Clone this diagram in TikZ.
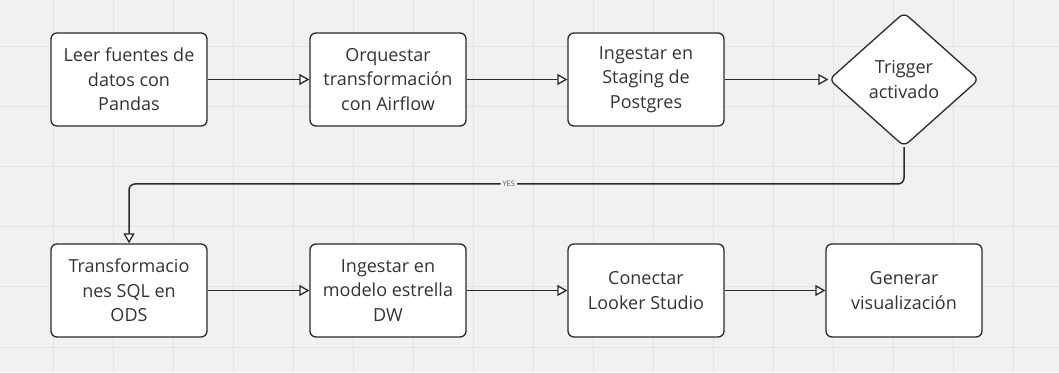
\documentclass[tikz,border=0pt]{standalone}
\usepackage{fontspec}
\setmainfont{Open Sans}
\usetikzlibrary{arrows.meta,shapes.geometric}

\definecolor{canvas}{HTML}{F1F1F1}
\definecolor{gridline}{HTML}{E2E2E2}
\definecolor{inkline}{HTML}{2A2A2A}
\definecolor{inktext}{HTML}{333333}

\tikzset{
  stepbox/.style={draw=inkline, fill=white, line width=1.3pt, rounded corners=6pt,
    minimum width=156pt, minimum height=93pt, align=center,
    font=\fontsize{18}{24.5}\selectfont, text=inktext},
  choice/.style={diamond, draw=inkline, fill=white, line width=1.3pt, rounded corners=6pt,
    minimum width=150pt, minimum height=134pt, inner sep=0pt, align=center,
    font=\fontsize{18}{24.5}\selectfont, text=inktext},
  flow/.style={draw=inkline, line width=1.5pt,
    -{Triangle[length=10pt,width=11pt,fill=white,line width=1.3pt]}},
  yes/.style={fill=canvas, inner sep=2pt, text=inktext!80,
    font=\fontsize{7.5}{8}\selectfont}
}

\begin{document}
\begin{tikzpicture}[x=1pt,y=1pt]
% canvas and grid
\useasboundingbox (0,0) rectangle (1059,372);
\fill[canvas] (0,0) rectangle (1059,372);
\foreach \gx in {53,113,...,1013}
  \draw[gridline, line width=1pt] (\gx,0) -- (\gx,372);
\foreach \gy in {25,85,...,325}
  \draw[gridline, line width=1pt] (0,\gy) -- (1059,\gy);

% first row
\node[stepbox] (pandas)  at (129,292.5) {Leer fuentes de\\datos con\\Pandas};
\node[stepbox] (airflow) at (388,292.5) {Orquestar\\transformación\\con Airflow};
\node[stepbox] (staging) at (646,292.5) {Ingestar en\\Staging de\\Postgres};
\node[choice]  (trigger) at (904,292.5) {Trigger\\activado};

% second row
\node[stepbox] (ods)     at (129,81.5) {Transformacio\\nes SQL en\\ODS};
\node[stepbox] (dw)      at (388,81.5) {Ingestar en\\modelo estrella\\DW};
\node[stepbox] (looker)  at (646,81.5) {Conectar\\Looker Studio};
\node[stepbox] (viz)     at (904,81.5) {Generar\\visualización};

\draw[flow] (pandas) -- (airflow);
\draw[flow] (airflow) -- (staging);
\draw[flow] (staging) -- (trigger);

% back to the start of the second row
\coordinate (turn) at (904,188);
\draw[flow, rounded corners=6pt] (trigger.south) -- (turn)
  -- node[yes, pos=0.51] {YES} (turn -| ods.north) -- (ods.north);

\draw[flow] (ods) -- (dw);
\draw[flow] (dw) -- (looker);
\draw[flow] (looker) -- (viz);
\end{tikzpicture}
\end{document}
